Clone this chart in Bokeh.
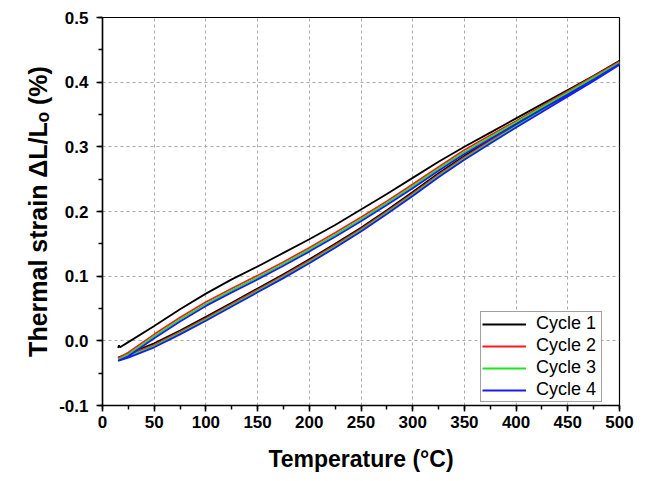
from bokeh.plotting import figure
from bokeh.models import SingleIntervalTicker, PrintfTickFormatter, Range1d
from bokeh.embed import file_html
from bokeh.resources import INLINE

# Temperature sampling points (°C)
temp = [15, 25, 50, 75, 100, 125, 150, 175, 200, 225, 250, 275, 300, 325, 350, 375, 400, 425, 450, 475, 500]

# Lower branch strain values, %
c1_low = [-0.026, -0.020, -0.004, 0.016, 0.037, 0.059, 0.081, 0.103, 0.126, 0.150, 0.175, 0.202, 0.230, 0.259, 0.286, 0.311, 0.336, 0.360, 0.384, 0.408, 0.433]
c2_low = [-0.027, -0.022, -0.006, 0.014, 0.035, 0.057, 0.079, 0.101, 0.124, 0.148, 0.173, 0.200, 0.228, 0.257, 0.284, 0.309, 0.334, 0.358, 0.382, 0.406, 0.431]
c3_low = [-0.029, -0.024, -0.008, 0.012, 0.033, 0.055, 0.077, 0.099, 0.122, 0.146, 0.171, 0.198, 0.226, 0.255, 0.282, 0.307, 0.332, 0.356, 0.380, 0.404, 0.429]
c4_low = [-0.031, -0.026, -0.010, 0.010, 0.031, 0.053, 0.075, 0.097, 0.120, 0.144, 0.169, 0.196, 0.224, 0.253, 0.280, 0.305, 0.330, 0.354, 0.378, 0.402, 0.427]

# Upper branch strain values, %
c1_up = [-0.010, -0.002, 0.023, 0.049, 0.073, 0.095, 0.115, 0.136, 0.157, 0.179, 0.203, 0.227, 0.252, 0.277, 0.300, 0.322, 0.344, 0.366, 0.388, 0.410, 0.433]
c2_up = [-0.027, -0.018, 0.010, 0.036, 0.060, 0.081, 0.101, 0.122, 0.144, 0.167, 0.191, 0.216, 0.242, 0.269, 0.295, 0.318, 0.340, 0.363, 0.386, 0.409, 0.432]
c3_up = [-0.029, -0.021, 0.007, 0.033, 0.057, 0.078, 0.098, 0.119, 0.141, 0.164, 0.188, 0.213, 0.239, 0.266, 0.292, 0.315, 0.338, 0.361, 0.384, 0.407, 0.430]
c4_up = [-0.031, -0.024, 0.004, 0.030, 0.054, 0.075, 0.095, 0.116, 0.138, 0.161, 0.185, 0.210, 0.236, 0.263, 0.289, 0.312, 0.335, 0.358, 0.381, 0.404, 0.428]

# small start artefact of cycle 1
c1_start_t = [15, 16, 17]
c1_start_s = [-0.011, -0.007, -0.010]

names = ["Cycle 1", "Cycle 2", "Cycle 3", "Cycle 4"]
colors = ["#000000", "#ff1a1a", "#1ee61e", "#1a1aff"]

FONT = "Liberation Sans"

p = figure(frame_width=517, frame_height=388, output_backend="svg", toolbar_location=None,
           x_range=Range1d(0, 500), y_range=Range1d(-0.1, 0.5),
           min_border_left=102, min_border_right=23, min_border_top=17, min_border_bottom=66)

lows = [c1_low, c2_low, c3_low, c4_low]
ups = [c1_up, c2_up, c3_up, c4_up]
for i in range(4):
    xs = list(temp) + list(reversed(temp))
    ys = list(lows[i]) + list(reversed(ups[i]))
    if i == 0:
        xs = xs[:-1] + list(reversed(c1_start_t))
        ys = ys[:-1] + list(reversed(c1_start_s))
    p.line(xs, ys, line_color=colors[i], line_width=1.8, legend_label=names[i])

p.xaxis.ticker = SingleIntervalTicker(interval=50, num_minor_ticks=2)
p.yaxis.ticker = SingleIntervalTicker(interval=0.1, num_minor_ticks=2)
p.yaxis.formatter = PrintfTickFormatter(format="%.1f")

for ax in (p.xaxis[0], p.yaxis[0]):
    ax.axis_line_color = "black"
    ax.axis_line_width = 1.5
    ax.major_tick_line_color = "black"
    ax.major_tick_line_width = 1.5
    ax.minor_tick_line_color = "black"
    ax.minor_tick_line_width = 1.5
    ax.major_tick_in = 0
    ax.major_tick_out = 6
    ax.minor_tick_in = 0
    ax.minor_tick_out = 4
    ax.major_label_text_font = FONT
    ax.major_label_text_font_style = "bold"
    ax.major_label_text_font_size = "17px"
    ax.major_label_text_color = "black"
    ax.axis_label_text_font = FONT
    ax.axis_label_text_font_style = "bold"
    ax.axis_label_text_color = "black"

p.xaxis.axis_label = "Temperature (°C)"
p.yaxis.axis_label = "Thermal strain ΔL/Lₒ (%)"
p.xaxis.axis_label_text_font_size = "23px"
p.yaxis.axis_label_text_font_size = "25px"
p.xaxis.major_label_standoff = 4
p.xaxis.axis_label_standoff = 15
p.yaxis.major_label_standoff = 8
p.yaxis.axis_label_standoff = 4

for g in (p.xgrid[0], p.ygrid[0]):
    g.grid_line_color = "#aaaaaa"
    g.grid_line_dash = "3 3"
    g.grid_line_width = 1

p.outline_line_color = "black"
p.outline_line_width = 1.2
p.background_fill_color = "white"
p.border_fill_color = "white"

lg = p.legend[0]
lg.location = (378, 3)
lg.border_line_color = "#444444"
lg.border_line_width = 1
lg.background_fill_alpha = 1
lg.label_text_font = FONT
lg.label_text_font_size = "18px"
lg.label_text_color = "black"
lg.glyph_width = 44
lg.glyph_height = 20
lg.label_height = 20
lg.label_width = 64
lg.spacing = 1
lg.padding = 1
lg.label_standoff = 10
lg.margin = 0

open("out.html", "w").write(file_html(p, INLINE))
